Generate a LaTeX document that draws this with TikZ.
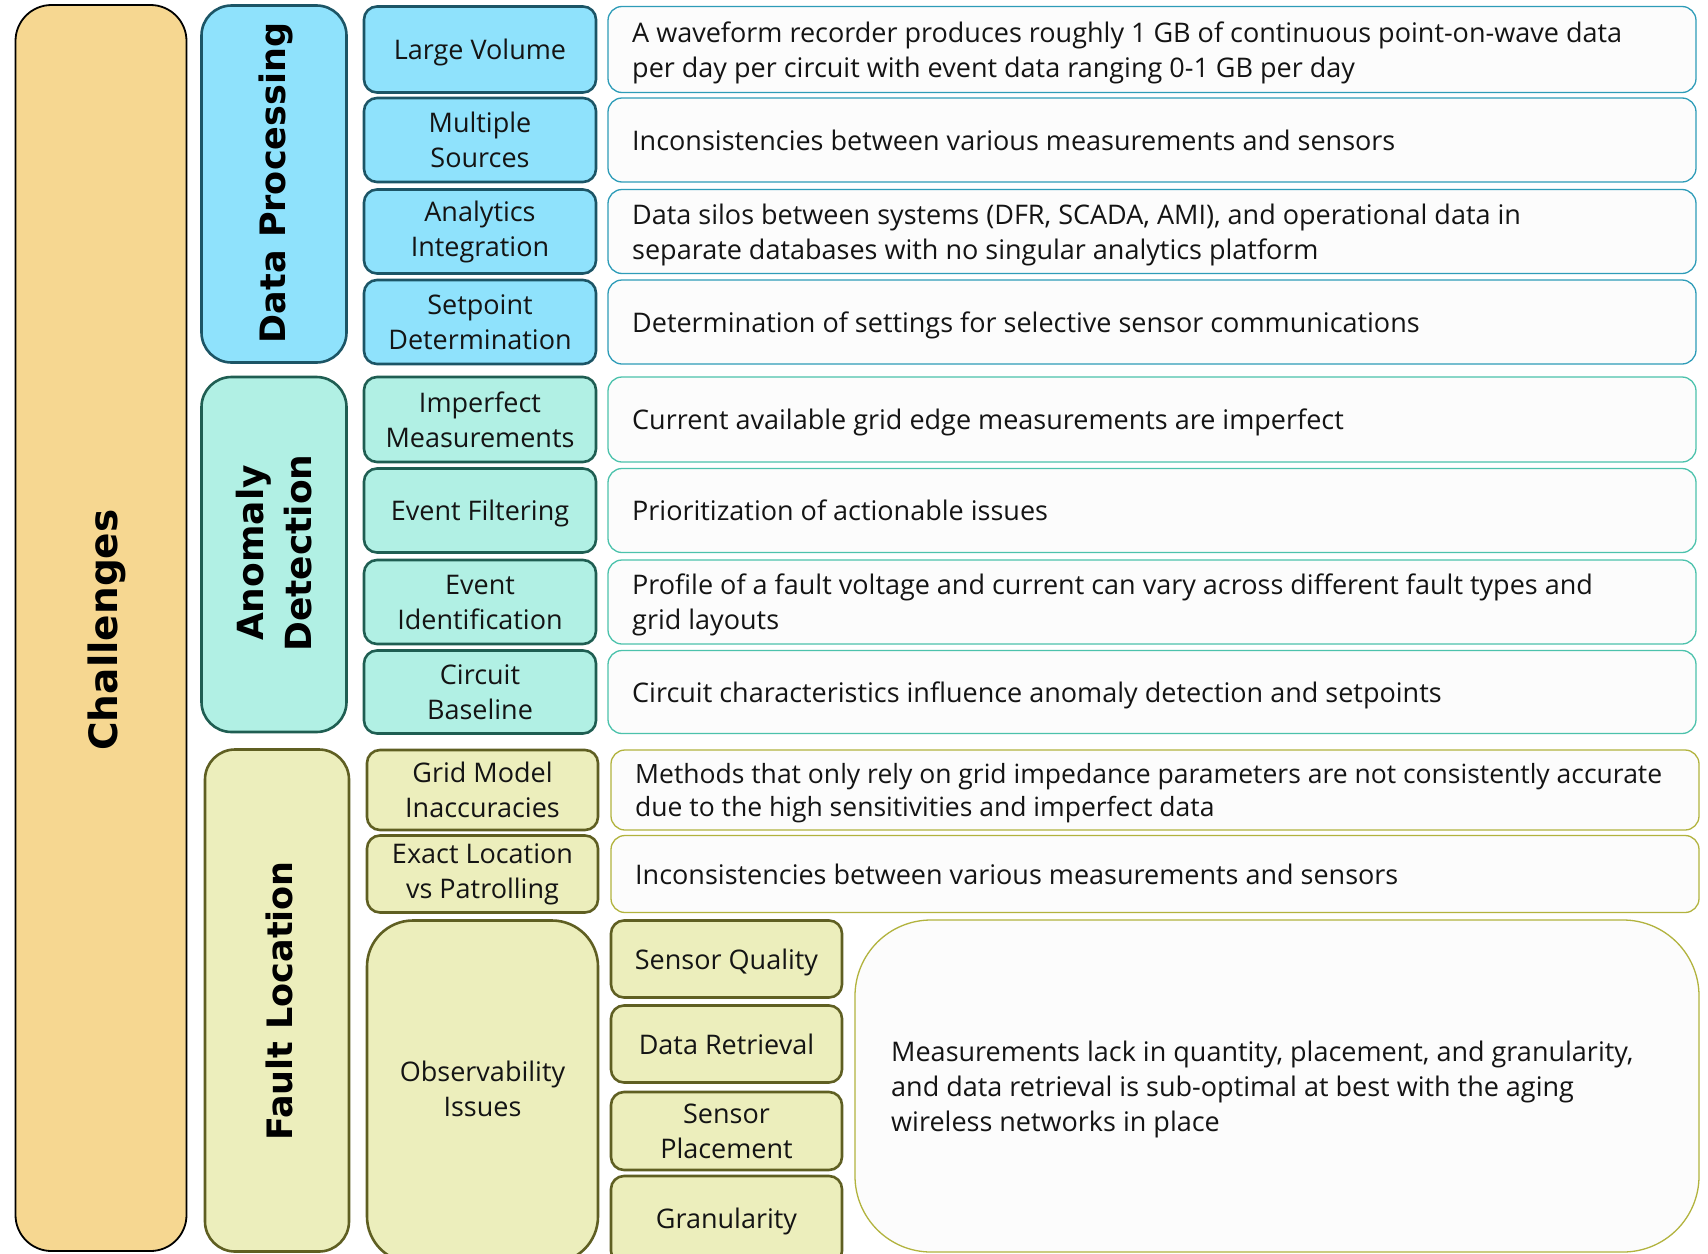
\documentclass[tikz,border=0pt]{standalone}
\usepackage{fontspec}
\setmainfont{Open Sans}
\newfontfamily\titlefont{DejaVu Sans}
\definecolor{chalfill}{HTML}{F6D791}
\definecolor{dpfill}{HTML}{8FE2FC}
\definecolor{dpdraw}{HTML}{1C5566}
\definecolor{dpline}{HTML}{2E9CB8}
\definecolor{adfill}{HTML}{B1F0E4}
\definecolor{addraw}{HTML}{1F5E52}
\definecolor{adline}{HTML}{4CC2AC}
\definecolor{flfill}{HTML}{ECEEBC}
\definecolor{fldraw}{HTML}{5F5F22}
\definecolor{flline}{HTML}{B2B33E}
\definecolor{txt}{HTML}{141414}
\tikzset{
  box/.style={rounded corners=#1, inner sep=0pt, align=center, text=txt,
    font=\fontsize{27}{35}\selectfont},
  one/.style={text height=20.5pt, text depth=0pt},
  cat/.style={box=30pt, line width=2.6pt},
  item/.style={box=13pt, line width=2.6pt},
  desc/.style={box=14pt, line width=1.3pt, fill=white!99!black},
  dtext/.style={anchor=west, inner sep=0pt, align=left, text=txt, font=\fontsize{27}{35}\selectfont},
  two/.style={yshift=-3pt},
  ttl/.style={font=\titlefont\bfseries\fontsize{36}{48}\selectfont, text=black, rotate=90, align=center},
}
\begin{document}
\begin{tikzpicture}[x=1pt,y=-1pt]
\clip (0,0) rectangle (1708,1253);
\fill[white] (0,0) rectangle (1708,1253);
% Challenges
\node[box=36pt, line width=1.8pt, draw=black, fill=chalfill, minimum width=171, minimum height=1246] (chal) at (101,628) {};
\node[ttl, font=\titlefont\bfseries\fontsize{39}{40}\selectfont] (chalt) at (107,630) {Challenges};
% Category boxes
\node[cat, draw=dpdraw, fill=dpfill, minimum width=145, minimum height=357] (dp) at (274,184) {};
\node[ttl, font=\titlefont\bfseries\fontsize{35}{40}\selectfont] (dpt) at (276,183) {Data Processing};
\node[cat, draw=addraw, fill=adfill, minimum width=145, minimum height=355] (ad) at (274,554.5) {};
\node[ttl] (adt) at (274,553) {Anomaly\\Detection};
\node[cat, draw=fldraw, fill=flfill, minimum width=144, minimum height=502] (fl) at (277,1000.5) {};
\node[ttl, font=\titlefont\bfseries\fontsize{35}{40}\selectfont] (flt) at (279,1001) {Fault Location};
% Data processing items
\node[item, one, draw=dpdraw, fill=dpfill, minimum width=232, minimum height=86] (i1) at (480,49.5) {Large Volume};
\node[item, draw=dpdraw, fill=dpfill, minimum width=232, minimum height=84] (i2) at (480,140) {Multiple\\Sources};
\node[item, draw=dpdraw, fill=dpfill, minimum width=232, minimum height=84] (i3) at (480,231.5) {Analytics\\Integration};
\node[item, draw=dpdraw, fill=dpfill, minimum width=232, minimum height=84] (i4) at (480,322) {Setpoint\\Determination};
\node[desc, draw=dpline, minimum width=1088, minimum height=86] (d1) at (1152,49.5) {};
\node[dtext, two] (d1t) at (632,49.5) {A waveform recorder produces roughly 1 GB of continuous point-on-wave data\\per day per circuit with event data ranging 0-1 GB per day};
\node[desc, draw=dpline, minimum width=1088, minimum height=84] (d2) at (1152,140) {};
\node[dtext, one] (d2t) at (632,140) {Inconsistencies between various measurements and sensors};
\node[desc, draw=dpline, minimum width=1088, minimum height=84] (d3) at (1152,231.5) {};
\node[dtext, two] (d3t) at (632,231.5) {Data silos between systems (DFR, SCADA, AMI), and operational data in\\separate databases with no singular analytics platform};
\node[desc, draw=dpline, minimum width=1088, minimum height=84] (d4) at (1152,322) {};
\node[dtext, one] (d4t) at (632,322) {Determination of settings for selective sensor communications};
% Anomaly detection items
\node[item, draw=addraw, fill=adfill, minimum width=232, minimum height=85] (i5) at (480,419.5) {Imperfect\\Measurements};
\node[item, one, draw=addraw, fill=adfill, minimum width=232, minimum height=84] (i6) at (480,510.5) {Event Filtering};
\node[item, draw=addraw, fill=adfill, minimum width=232, minimum height=84] (i7) at (480,602) {Event\\Identification};
\node[item, draw=addraw, fill=adfill, minimum width=232, minimum height=83] (i8) at (480,692) {Circuit\\Baseline};
\node[desc, draw=adline, minimum width=1088, minimum height=85] (d5) at (1152,419.5) {};
\node[dtext, one] (d5t) at (632,419.5) {Current available grid edge measurements are imperfect};
\node[desc, draw=adline, minimum width=1088, minimum height=84] (d6) at (1152,510.5) {};
\node[dtext, one] (d6t) at (632,510.5) {Prioritization of actionable issues};
\node[desc, draw=adline, minimum width=1088, minimum height=84] (d7) at (1152,602) {};
\node[dtext, two] (d7t) at (632,602) {Profile of a fault voltage and current can vary across different fault types and\\grid layouts};
\node[desc, draw=adline, minimum width=1088, minimum height=83] (d8) at (1152,692) {};
\node[dtext, one] (d8t) at (632,692) {Circuit characteristics influence anomaly detection and setpoints};
% Fault location items
\node[item, draw=fldraw, fill=flfill, minimum width=231, minimum height=80] (i9) at (482.5,790) {Grid Model\\Inaccuracies};
\node[item, draw=fldraw, fill=flfill, minimum width=231, minimum height=77] (i10) at (482.5,874) {Exact Location\\vs Patrolling};
\node[item, box=46pt, draw=fldraw, fill=flfill, minimum width=231, minimum height=342] (i11) at (482.5,1091.5) {};
\node[text=txt, font=\fontsize{27}{35}\selectfont, align=center] (i11t) at (482.5,1089) {Observability\\Issues};
\node[desc, draw=flline, minimum width=1088, minimum height=80] (d9) at (1155,790) {};
\node[dtext, two, font=\fontsize{26.5}{33}\selectfont] (d9t) at (635,790) {Methods that only rely on grid impedance parameters are not consistently accurate\\due to the high sensitivities and imperfect data};
\node[desc, draw=flline, minimum width=1088, minimum height=77] (d10) at (1155,874) {};
\node[dtext, one] (d10t) at (635,874) {Inconsistencies between various measurements and sensors};
\node[item, one, draw=fldraw, fill=flfill, minimum width=231, minimum height=77] (s1) at (726.5,959) {Sensor Quality};
\node[item, one, draw=fldraw, fill=flfill, minimum width=231, minimum height=77] (s2) at (726.5,1044) {Data Retrieval};
\node[item, draw=fldraw, fill=flfill, minimum width=231, minimum height=78] (s3) at (726.5,1131) {Sensor\\Placement};
\node[item, draw=fldraw, fill=flfill, minimum width=231, minimum height=88] (s4) at (726.5,1220) {};
\node[text=txt, one, inner sep=0pt, font=\fontsize{27}{35}\selectfont] (s4t) at (726.5,1218) {Granularity};
\node[desc, box=76pt, minimum width=844, minimum height=332, draw=flline] (d11) at (1277,1086) {};
\node[dtext, two] (d11t) at (891,1086) {Measurements lack in quantity, placement, and granularity,\\and data retrieval is sub-optimal at best with the aging\\wireless networks in place};
\end{tikzpicture}
\end{document}
